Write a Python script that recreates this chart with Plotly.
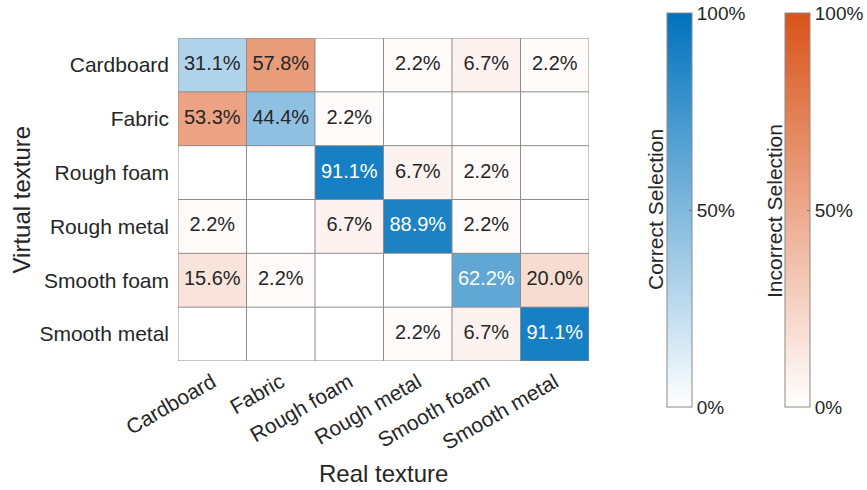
import math
import plotly.graph_objects as go

# Texture categories (rows: virtual texture shown, columns: real texture)
categories = ["Cardboard", "Fabric", "Rough foam", "Rough metal", "Smooth foam", "Smooth metal"]

# Selection percentages, one list per virtual texture row
row_cardboard = [31.1, 57.8, 0.0, 2.2, 6.7, 2.2]
row_fabric = [53.3, 44.4, 2.2, 0.0, 0.0, 0.0]
row_rough_foam = [0.0, 0.0, 91.1, 6.7, 2.2, 0.0]
row_rough_metal = [2.2, 0.0, 6.7, 88.9, 2.2, 0.0]
row_smooth_foam = [15.6, 2.2, 0.0, 0.0, 62.2, 20.0]
row_smooth_metal = [0.0, 0.0, 0.0, 2.2, 6.7, 91.1]

colorbar_ticks = [0, 50, 100]
colorbar_ticktext = ["0%", "50%", "100%"]

matrix = [row_cardboard, row_fabric, row_rough_foam, row_rough_metal,
          row_smooth_foam, row_smooth_metal]
n = len(categories)

BLUE = (0, 114, 189)
ORANGE = (217, 83, 25)
FONT = "Liberation Sans, Arial, sans-serif"
TXT = "#262626"

# Figure geometry (pixels); paper coordinates span the whole figure
W, H = 867, 490
L, R, T, B = 178, 589, 38, 361


def px_x(x):
    return x / W


def px_y(y):
    return (H - y) / H


def lerp_white(c, v):
    f = v / 100.0
    return tuple(255 - f * (255 - ci) for ci in c)


diag_z = [[matrix[i][j] if i == j else math.nan for j in range(n)] for i in range(n)]
off_z = [[matrix[i][j] if (i != j and matrix[i][j] > 0) else math.nan for j in range(n)]
         for i in range(n)]


def colorbar(xpx):
    return dict(
        x=px_x(xpx), xanchor="left", xpad=0,
        y=px_y(13), yanchor="top", ypad=0,
        len=394, lenmode="pixels", thickness=25, thicknessmode="pixels",
        outlinewidth=1, outlinecolor="#8a8a8a",
        tickvals=colorbar_ticks, ticktext=colorbar_ticktext,
        ticks="inside", ticklen=3, tickcolor="#777777",
        tickfont=dict(family=FONT, size=19, color=TXT),
    )


fig = go.Figure()
fig.add_trace(go.Heatmap(
    z=diag_z, x=categories, y=categories, zmin=0, zmax=100,
    colorscale=[[0, "rgb(255,255,255)"], [1, "rgb(%d,%d,%d)" % BLUE]],
    colorbar=colorbar(667), hoverongaps=False,
))
fig.add_trace(go.Heatmap(
    z=off_z, x=categories, y=categories, zmin=0, zmax=100,
    colorscale=[[0, "rgb(255,255,255)"], [1, "rgb(%d,%d,%d)" % ORANGE]],
    colorbar=colorbar(785), hoverongaps=False,
))

# Cell labels with contrast-aware colour
tx, ty, tt, tc = [], [], [], []
for i in range(n):
    for j in range(n):
        v = matrix[i][j]
        if v <= 0:
            continue
        col = lerp_white(BLUE if i == j else ORANGE, v)
        lum = (0.299 * col[0] + 0.587 * col[1] + 0.114 * col[2]) / 255
        tx.append(categories[j])
        ty.append(categories[i])
        tt.append(f"{v:.1f}%")
        tc.append("white" if lum < 0.65 else TXT)
fig.add_trace(go.Scatter(
    x=tx, y=ty, text=tt, mode="text", showlegend=False, hoverinfo="skip",
    textfont=dict(family=FONT, size=20, color=tc),
))

# Cell borders
shapes = []
for k in range(n + 1):
    p = k - 0.5
    shapes.append(dict(type="line", xref="x", yref="y", x0=p, x1=p, y0=-0.5, y1=n - 0.5,
                       line=dict(color="#8c8c8c", width=1)))
    shapes.append(dict(type="line", xref="x", yref="y", x0=-0.5, x1=n - 0.5, y0=p, y1=p,
                       line=dict(color="#8c8c8c", width=1)))


def label(text, x, y, size, angle=0):
    return dict(text=text, x=px_x(x), y=px_y(y), xref="paper", yref="paper",
                xanchor="center", yanchor="middle", textangle=angle, showarrow=False,
                font=dict(family=FONT, size=size, color=TXT))


annotations = [
    label("Real texture", (L + R) / 2, 473, 24),
    label("Virtual texture", 21, (T + B) / 2, 24, -90),
    label("Correct Selection", 655, 210, 21, -90),
    label("Incorrect Selection", 775, 211, 21, -90),
]

fig.update_layout(
    width=W, height=H,
    margin=dict(l=0, r=0, t=0, b=0, pad=0, autoexpand=False),
    paper_bgcolor="white", plot_bgcolor="white",
    shapes=shapes, annotations=annotations, showlegend=False,
    xaxis=dict(type="category", categoryorder="array", categoryarray=categories,
               domain=[L / W, R / W], automargin=False,
               range=[-0.5, n - 0.5], tickangle=-30, showgrid=False, zeroline=False,
               ticks="", ticklabelstandoff=4, tickfont=dict(family=FONT, size=21, color=TXT)),
    yaxis=dict(type="category", categoryorder="array", categoryarray=categories,
               domain=[(H - B) / H, (H - T) / H], automargin=False,
               range=[n - 0.5, -0.5], showgrid=False, zeroline=False,
               ticks="", ticklabelstandoff=8, tickfont=dict(family=FONT, size=21, color=TXT)),
)

fig.write_html("out.html")
